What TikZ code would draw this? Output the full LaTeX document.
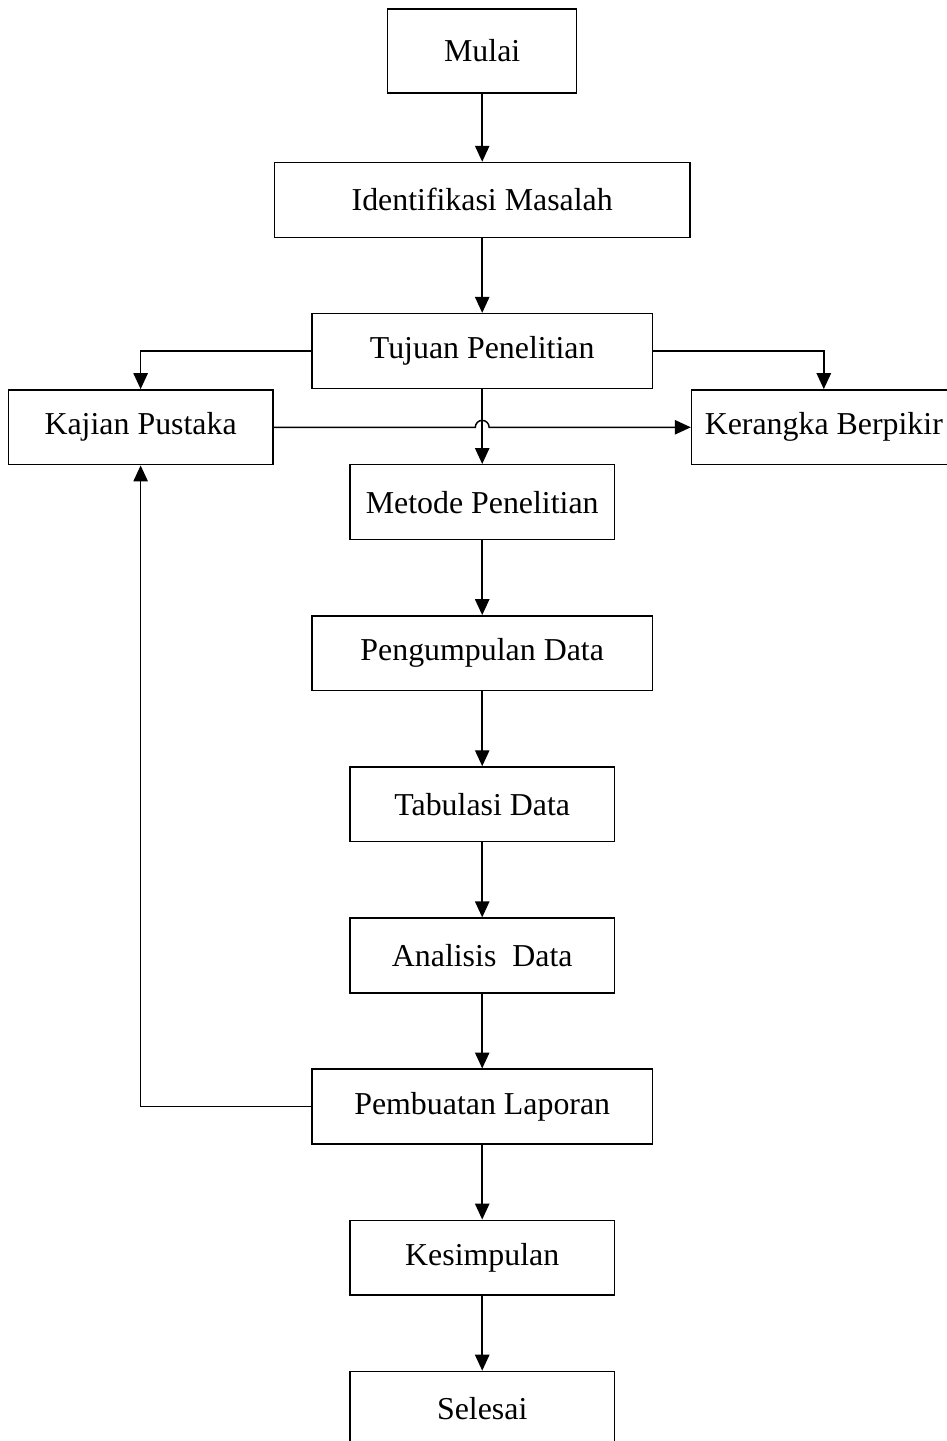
\documentclass[tikz,border=0pt]{standalone}
\usepackage{fontspec}
\setmainfont{Liberation Serif}
\usepackage{tikz}
\usetikzlibrary{arrows.meta, positioning, calc}

\begin{document}
\begin{tikzpicture}[
  font=\fontsize{12}{14}\selectfont,
  process/.style={draw, rectangle, line width=0.55pt,
                  minimum width=#1, minimum height=0.99cm,
                  inner sep=0pt, text centered},
  process/.default=3.5cm,
  arr/.style={-{Triangle[length=6pt, width=5.4pt]}, line width=0.55pt},
  node distance=0.99cm,
]
\useasboundingbox (-6.38,0.675) rectangle (6.14,-18.39);

\node[process=2.5cm, minimum height=1.11cm] (mulai) at (0,0) {Mulai};
\node[process=5.5cm, below=0.9cm of mulai]   (ident)     {Identifikasi Masalah};
\node[process=4.5cm, below=of ident]         (tujuan)    {Tujuan Penelitian};
\node[process, below left=0cm and 0.5cm of tujuan.south west]  (kajian)   {Kajian Pustaka};
\node[process, below right=0cm and 0.5cm of tujuan.south east] (kerangka) {Kerangka Berpikir};
\node[process, below=of tujuan]              (metode)    {Metode Penelitian};
\node[process=4.5cm, below=of metode]        (kumpul)    {Pengumpulan Data};
\node[process, below=of kumpul]              (tabulasi)  {Tabulasi Data};
\node[process, below=of tabulasi]            (analisis)  {Analisis\ \ Data};
\node[process=4.5cm, below=of analisis]      (laporan)   {Pembuatan Laporan};
\node[process, below=of laporan]             (simpul)    {Kesimpulan};
\node[process, below=of simpul]              (selesai)   {Selesai};

\coordinate (cross) at (tujuan.south |- kajian.east);

\draw[arr] (mulai)    -- (ident);
\draw[arr] (ident)    -- (tujuan);
\draw[arr] (tujuan)   -- (metode);
\draw[arr] (metode)   -- (kumpul);
\draw[arr] (kumpul)   -- (tabulasi);
\draw[arr] (tabulasi) -- (analisis);
\draw[arr] (analisis) -- (laporan);
\draw[arr] (laporan)  -- (simpul);
\draw[arr] (simpul)   -- (selesai);
\draw[arr] (tujuan.west) -| (kajian.north);
\draw[arr] (tujuan.east) -| (kerangka.north);
\draw[arr] (kajian.east) -- ([xshift=-2.6pt]cross)
           arc[start angle=180, end angle=0, radius=2.6pt] -- (kerangka.west);
\draw[arr] (laporan.west) -| (kajian.south);
\end{tikzpicture}
\end{document}
